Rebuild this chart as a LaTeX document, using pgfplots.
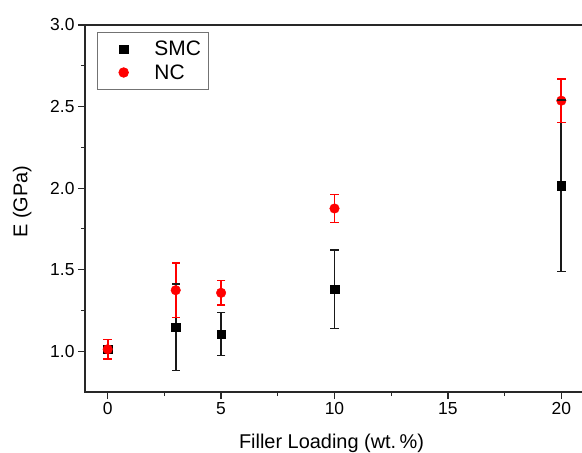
\documentclass[border=0pt]{standalone}
\usepackage{fontspec}
\setmainfont{Liberation Sans}
\usepackage{pgfplots}
\pgfplotsset{compat=1.18}
\definecolor{ncred}{RGB}{255,0,0}
\definecolor{spine}{RGB}{40,40,40}
\definecolor{barblack}{RGB}{25,25,25}
\pgfplotsset{
 ebar/.style={forget plot, draw=#1, color=#1, line width=1.8bp, mark=-, mark size=4.2bp, mark options={solid, draw=#1, line width=1.4bp}},
}
\begin{document}
\begin{tikzpicture}
\useasboundingbox (-85bp,-61bp) rectangle (497bp,392bp);
\begin{axis}[
 at={(0,0)}, anchor=south west,
 scale only axis, width=499bp, height=367bp,
 xmin=-1, xmax=21, ymin=0.75, ymax=3.0,
 xtick={0,5,10,15,20}, ytick={1.0,1.5,2.0,2.5,3.0},
 minor x tick num=1, minor y tick num=1,
 yticklabel style={/pgf/number format/.cd, fixed, fixed zerofill, precision=1},
 /pgf/number format/assume math mode=true,
 tick align=outside, tick pos=left,
 major tick length=7bp, minor tick length=4bp,
 axis line style={line width=1.2bp, spine},
 tick style={line width=1.2bp, spine},
 ticklabel style={font=\fontsize{17.5}{20}\selectfont},
 label style={font=\fontsize{20}{24}\selectfont},
 xlabel={Filler Loading (wt.\,\%)},
 ylabel={E (GPa)},
 xlabel style={at={(axis description cs:0.494,-0.139)}, anchor=center},
 ylabel style={at={(axis description cs:-0.126,0.519)}, anchor=center},
 legend style={at={(axis description cs:0.024,0.981)}, anchor=north west,
   draw=black!55, line width=0.8bp, font=\fontsize{21}{24}\selectfont,
   inner xsep=21.5bp, inner ysep=7bp, row sep=3bp},
 legend cell align=left,
]
% markers
\addplot[only marks, mark=square*, mark size=4.3bp, color=black]
 coordinates {(0,1.012) (3,1.147) (5,1.104) (10,1.38) (20,2.014)};
\addlegendentry{\hspace{24bp}\makebox[30.5bp][l]{SMC}}
\addplot[only marks, mark=*, mark size=4.8bp, color=ncred]
 coordinates {(0,1.012) (3,1.374) (5,1.358) (10,1.875) (20,2.536)};
\addlegendentry{\hspace{24bp}\makebox[30.5bp][l]{NC}}
% SMC error bars (low, high)
\addplot[ebar=barblack] coordinates {(0,0.952) (0,1.072)};
\addplot[ebar=barblack] coordinates {(3,0.882) (3,1.412)};
\addplot[ebar=barblack] coordinates {(5,0.972) (5,1.236)};
\addplot[ebar=barblack] coordinates {(10,1.14) (10,1.62)};
\addplot[ebar=barblack] coordinates {(20,1.487) (20,2.541)};
% NC error bars (low, high)
\addplot[ebar=ncred] coordinates {(0,0.952) (0,1.072)};
\addplot[ebar=ncred] coordinates {(3,1.207) (3,1.541)};
\addplot[ebar=ncred] coordinates {(5,1.283) (5,1.433)};
\addplot[ebar=ncred] coordinates {(10,1.788) (10,1.962)};
\addplot[ebar=ncred] coordinates {(20,2.402) (20,2.670)};
\end{axis}
\end{tikzpicture}
\end{document}
